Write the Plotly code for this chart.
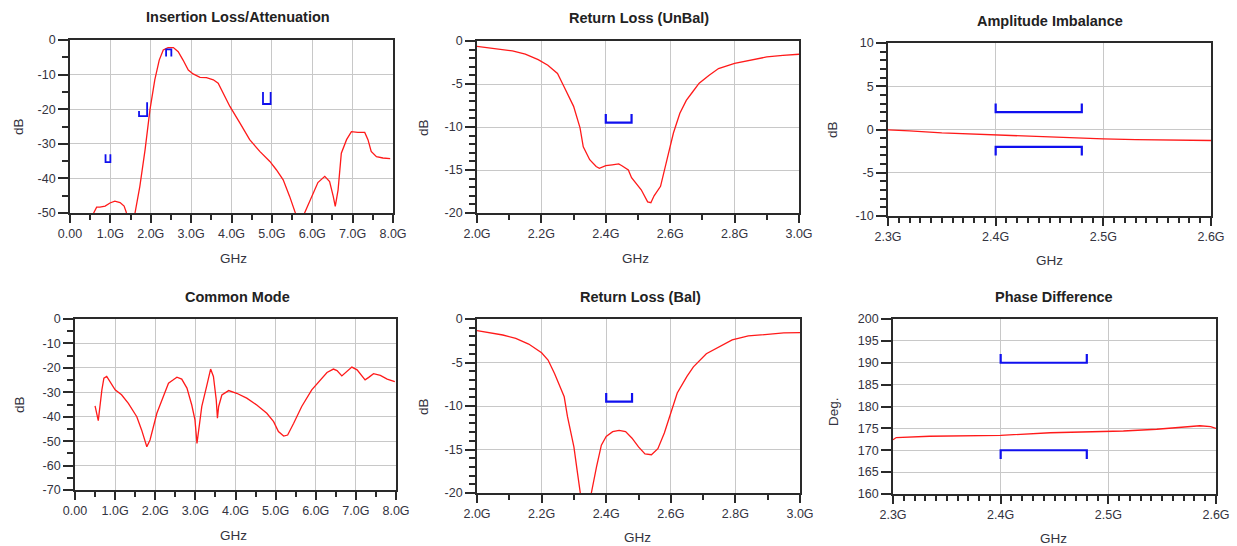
import plotly.graph_objects as go

W, H = 1237, 546

# ---------------- data ----------------
il_freq = [0.50, 0.58, 0.66, 0.74, 0.87, 0.99, 1.11, 1.24, 1.34, 1.40, 1.50, 1.61, 1.73, 1.86, 1.98,
           2.10, 2.21, 2.31, 2.43, 2.56, 2.68, 2.80, 2.93, 3.05, 3.22, 3.38, 3.55, 3.67, 3.79, 3.96,
           4.21, 4.45, 4.70, 4.95, 5.11, 5.28, 5.44, 5.57, 5.70, 5.81, 5.98, 6.14, 6.31, 6.43, 6.52,
           6.57, 6.64, 6.72, 6.85, 6.97, 7.13, 7.30, 7.38, 7.46, 7.59, 7.75, 7.93]
il_db = [-52, -50, -48.3, -48.3, -48.0, -47.1, -46.6, -47.0, -48.0, -50, -53, -50, -42.3, -31.7, -20.2,
         -11.5, -5.8, -2.9, -2.2, -2.2, -3.4, -5.8, -8.7, -9.8, -10.8, -10.9, -11.5, -12.5, -15.4, -19.2,
         -24.0, -28.8, -32.2, -35.1, -37.5, -40.4, -45.2, -50, -54, -50, -45.2, -41.2, -39.4, -40.9, -45.2,
         -48.1, -43.3, -32.7, -28.8, -26.5, -26.7, -26.7, -28.8, -32.2, -33.7, -34.1, -34.3]

il_spec_f0 = [0.88, 1.71, 2.38, 4.78]
il_spec_f1 = [1.00, 1.91, 2.51, 4.97]
il_spec_level = [-35.3, -22.0, -2.7, -18.5]
il_spec_tip0 = [-33.0, -20.5, -4.8, -15.0]
il_spec_tip1 = [-33.0, -18.0, -4.8, -15.0]

cm_freq = [0.50, 0.58, 0.67, 0.72, 0.79, 0.87, 1.00, 1.16, 1.33, 1.54, 1.66, 1.79, 1.87, 2.04, 2.20,
           2.33, 2.45, 2.54, 2.66, 2.79, 2.91, 2.99, 3.04, 3.08, 3.16, 3.28, 3.38, 3.45, 3.52, 3.55,
           3.58, 3.66, 3.83, 4.03, 4.28, 4.53, 4.78, 4.95, 5.07, 5.20, 5.30, 5.45, 5.65, 5.90, 6.11,
           6.28, 6.44, 6.53, 6.65, 6.78, 6.90, 7.03, 7.23, 7.32, 7.44, 7.61, 7.78, 7.97]
cm_db = [-35.6, -41.6, -29.0, -24.2, -23.5, -25.6, -29.0, -31.0, -34.5, -40.0, -45.4, -52.3, -49.5, -38.6, -31.7,
         -26.3, -24.9, -23.8, -24.6, -28.3, -35.2, -41.3, -50.9, -45.4, -35.8, -27.6, -20.5, -23.5, -33.1, -40.6,
         -35.8, -31.1, -29.3, -30.4, -32.4, -35.2, -38.6, -42.0, -46.1, -47.9, -47.5, -42.7, -35.8, -29.0, -24.9,
         -21.9, -20.5, -21.1, -23.3, -21.5, -19.7, -20.8, -24.9, -23.9, -22.4, -23.1, -24.6, -25.6]

rlu_freq = [2.00, 2.03, 2.07, 2.11, 2.15, 2.19, 2.22, 2.25, 2.27, 2.30, 2.32, 2.33, 2.35, 2.37, 2.38,
            2.40, 2.42, 2.44, 2.45, 2.47, 2.48, 2.51, 2.53, 2.54, 2.55, 2.57, 2.59, 2.61, 2.63, 2.65,
            2.67, 2.69, 2.72, 2.75, 2.80, 2.85, 2.90, 2.95, 3.00]
rlu_db = [-0.62, -0.77, -0.93, -1.16, -1.54, -2.16, -2.82, -3.78, -5.3, -7.6, -10.1, -12.3, -13.8, -14.6, -14.8,
          -14.5, -14.4, -14.3, -14.5, -15.0, -15.9, -17.3, -18.7, -18.8, -18.0, -16.9, -13.8, -10.7, -8.4, -6.9,
          -5.9, -4.9, -4.0, -3.2, -2.6, -2.2, -1.85, -1.66, -1.54]

rlb_freq = [2.00, 2.04, 2.08, 2.12, 2.16, 2.20, 2.22, 2.24, 2.27, 2.28, 2.30, 2.31, 2.32, 2.335, 2.354,
            2.37, 2.385, 2.40, 2.42, 2.44, 2.46, 2.48, 2.50, 2.52, 2.54, 2.56, 2.58, 2.60, 2.62, 2.65,
            2.67, 2.71, 2.75, 2.79, 2.84, 2.90, 2.95, 3.00]
rlb_db = [-1.34, -1.57, -1.84, -2.23, -2.88, -3.88, -4.72, -6.26, -8.94, -11.2, -14.7, -17.4, -20.05, -28.0, -20.0,
          -17.0, -14.5, -13.5, -12.95, -12.8, -12.95, -13.7, -14.7, -15.5, -15.6, -14.9, -13.1, -10.8, -8.5, -6.6,
          -5.5, -4.0, -3.2, -2.4, -1.95, -1.72, -1.6, -1.57]

rl_spec_f = [2.40, 2.48]
rl_spec_level = -9.5
rl_spec_tip = -8.5

ai_freq = [2.30, 2.32, 2.35, 2.38, 2.40, 2.42, 2.45, 2.48, 2.50, 2.53, 2.56, 2.60]
ai_db = [-0.05, -0.15, -0.40, -0.55, -0.65, -0.75, -0.85, -0.98, -1.08, -1.18, -1.22, -1.27]
ai_spec_f = [2.40, 2.48]
ai_spec_hi, ai_spec_hi_tip = 2.0, 3.0
ai_spec_lo, ai_spec_lo_tip = -2.0, -3.0

pd_freq = [2.300, 2.303, 2.334, 2.384, 2.400, 2.446, 2.477, 2.514, 2.545, 2.570, 2.585, 2.595, 2.600]
pd_deg = [172.4, 172.9, 173.2, 173.4, 173.4, 174.0, 174.2, 174.4, 174.8, 175.2, 175.6, 175.4, 175.0]
pd_spec_f = [2.40, 2.48]
pd_spec_hi, pd_spec_hi_tip = 190.0, 192.0
pd_spec_lo, pd_spec_lo_tip = 170.0, 168.0

# tick labels
ghz8_vals = [0, 1, 2, 3, 4, 5, 6, 7, 8]
ghz8_text = ["0.00", "1.0G", "2.0G", "3.0G", "4.0G", "5.0G", "6.0G", "7.0G", "8.0G"]
ghz3_vals = [2.0, 2.2, 2.4, 2.6, 2.8, 3.0]
ghz3_text = ["2.0G", "2.2G", "2.4G", "2.6G", "2.8G", "3.0G"]
ghz26_vals = [2.3, 2.4, 2.5, 2.6]
ghz26_text = ["2.3G", "2.4G", "2.5G", "2.6G"]

titles = ["Insertion Loss/Attenuation", "Common Mode", "Return Loss (UnBal)",
          "Return Loss (Bal)", "Amplitude Imbalance", "Phase Difference"]

# ---------------- styling helpers ----------------
RED = "#ff1a1a"
BLUE = "#1010ee"
AXC = "#2a2a2a"
GRID = "#c8c8c8"
FONT = "Liberation Sans, Arial, sans-serif"
TICKC = "#333340"

# pixel boxes [x0, x1, y0(top), y1(bottom)]
boxes = {
    1: (70, 393, 40, 213),
    2: (75, 396, 319, 490),
    3: (477, 799, 41, 213),
    4: (477, 800, 319, 493),
    5: (888, 1211, 43, 216),
    6: (893, 1216, 319, 494),
}

fig = go.Figure()


def dom(i):
    x0, x1, y0, y1 = boxes[i]
    return [x0 / W, x1 / W], [1 - y1 / H, 1 - y0 / H]


def fmt(v):
    return ("%g" % v).replace("\u2212", "-")


def setup(i, xr, xvals, xtext, xminor, yr, ydt, yminor):
    xd, yd = dom(i)
    sfx = "" if i == 1 else str(i)
    yvals = []
    v = yr[1]
    while v >= yr[0] - 1e-9:
        yvals.append(round(v, 6))
        v -= ydt
    common = dict(showline=True, linecolor=AXC, linewidth=1.6, mirror=True,
                  ticks="outside", tickcolor=AXC, tickwidth=1.5,
                  showgrid=True, gridcolor=GRID, gridwidth=1.3, zeroline=False,
                  tickfont=dict(family=FONT, size=12.5, color=TICKC), fixedrange=True)
    xa = dict(common, domain=xd, anchor="y" + sfx, range=xr, tickmode="array",
              tickvals=xvals, ticktext=xtext, ticklen=8)
    if xminor:
        xa["minor"] = dict(dtick=xminor, tick0=xr[0], ticklen=5, tickcolor=AXC, tickwidth=1.5,
                           ticks="outside", showgrid=False)
    ya = dict(common, domain=yd, anchor="x" + sfx, range=yr, tickmode="array",
              tickvals=yvals, ticktext=[fmt(v) for v in yvals], ticklen=10)
    if yminor:
        ya["minor"] = dict(dtick=yminor, tick0=yr[0], ticklen=6, tickcolor=AXC, tickwidth=1.5,
                           ticks="outside", showgrid=False)
    fig.layout["xaxis" + sfx] = xa
    fig.layout["yaxis" + sfx] = ya
    return "x" + sfx, "y" + sfx


def curve(i, x, y):
    sfx = "" if i == 1 else str(i)
    fig.add_trace(go.Scatter(x=x, y=y, mode="lines", line=dict(color=RED, width=1.3),
                             xaxis="x" + sfx, yaxis="y" + sfx, hoverinfo="skip", showlegend=False))


def bracket(i, f0, f1, level, tip0, tip1, width=2.2):
    sfx = "" if i == 1 else str(i)
    fig.add_trace(go.Scatter(x=[f0, f0, f1, f1], y=[tip0, level, level, tip1], mode="lines",
                             line=dict(color=BLUE, width=width), xaxis="x" + sfx, yaxis="y" + sfx,
                             hoverinfo="skip", showlegend=False))


setup(1, [0, 8], ghz8_vals, ghz8_text, 0.5, [-50, 0], 10, 5)
setup(2, [0, 8], ghz8_vals, ghz8_text, 0.5, [-70, 0], 10, 5)
setup(3, [2.0, 3.0], ghz3_vals, ghz3_text, 0.1, [-20, 0], 5, 1)
setup(4, [2.0, 3.0], ghz3_vals, ghz3_text, 0.1, [-20, 0], 5, 1)
setup(5, [2.3, 2.6], ghz26_vals, ghz26_text, 0.01, [-10, 10], 5, 1)
setup(6, [2.3, 2.6], ghz26_vals, ghz26_text, 0.01, [160, 200], 5, None)

curve(1, il_freq, il_db)
for k in range(len(il_spec_f0)):
    bracket(1, il_spec_f0[k], il_spec_f1[k], il_spec_level[k], il_spec_tip0[k], il_spec_tip1[k], 1.8)
curve(2, cm_freq, cm_db)
curve(3, rlu_freq, rlu_db)
bracket(3, rl_spec_f[0], rl_spec_f[1], rl_spec_level, rl_spec_tip, rl_spec_tip)
curve(4, rlb_freq, rlb_db)
bracket(4, rl_spec_f[0], rl_spec_f[1], rl_spec_level, rl_spec_tip, rl_spec_tip)
curve(5, ai_freq, ai_db)
bracket(5, ai_spec_f[0], ai_spec_f[1], ai_spec_hi, ai_spec_hi_tip, ai_spec_hi_tip)
bracket(5, ai_spec_f[0], ai_spec_f[1], ai_spec_lo, ai_spec_lo_tip, ai_spec_lo_tip)
curve(6, pd_freq, pd_deg)
bracket(6, pd_spec_f[0], pd_spec_f[1], pd_spec_hi, pd_spec_hi_tip, pd_spec_hi_tip)
bracket(6, pd_spec_f[0], pd_spec_f[1], pd_spec_lo, pd_spec_lo_tip, pd_spec_lo_tip)

# text positions in pixels
title_pos = [(238, 17), (237, 297), (639, 18), (641, 297), (1050, 21), (1054, 297)]
xlab_pos = [(233, 258), (233, 535), (636, 258), (637, 537), (1049, 260), (1053, 538)]
ylab_pos = [(18, 127), (19, 405), (423, 128), (423, 407), (832, 130), (833, 412)]
ylab_text = ["dB", "dB", "dB", "dB", "dB", "Deg."]

ann = []
for i in range(6):
    tx, ty = title_pos[i]
    ann.append(dict(text="<b>" + titles[i] + "</b>", x=tx / W, y=1 - ty / H, xref="paper", yref="paper",
                    showarrow=False, xanchor="center", yanchor="middle",
                    font=dict(family=FONT, size=14.5, color="#222222")))
    lx, ly = xlab_pos[i]
    ann.append(dict(text="GHz", x=lx / W, y=1 - ly / H, xref="paper", yref="paper",
                    showarrow=False, xanchor="center", yanchor="middle",
                    font=dict(family=FONT, size=13.5, color=TICKC)))
    yx, yy = ylab_pos[i]
    ann.append(dict(text=ylab_text[i], x=yx / W, y=1 - yy / H, xref="paper", yref="paper",
                    showarrow=False, xanchor="center", yanchor="middle", textangle=-90,
                    font=dict(family=FONT, size=13.5, color=TICKC)))

fig.update_layout(width=W, height=H, margin=dict(l=0, r=0, t=0, b=0, autoexpand=False),
                  paper_bgcolor="white", plot_bgcolor="white", annotations=ann,
                  showlegend=False, hovermode=False)

fig.write_html("out.html", config={"displayModeBar": False},
               post_script="document.body.style.margin='0';document.body.style.overflow='hidden';")
